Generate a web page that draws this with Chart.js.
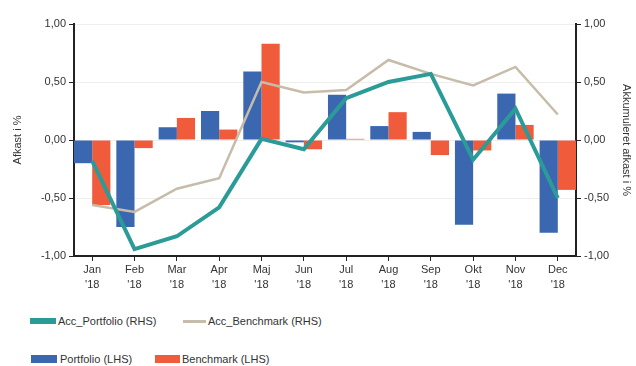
<!DOCTYPE html>
<html>
<head>
<meta charset="utf-8">
<script src="https://cdn.jsdelivr.net/npm/chart.js@4.4.1/dist/chart.umd.min.js"></script>
<style>
  html, body { margin: 0; padding: 0; background: #fff; }
  #wrap { position: relative; width: 636px; height: 366px; font-family: "Liberation Sans", Arial, sans-serif; }
  #box { position: absolute; left: 0; top: 0; width: 636px; height: 300px; }
  .lg { position: absolute; font-size: 11px; color: #333; line-height: 13px; white-space: nowrap; }
  .sw { position: absolute; }
</style>
</head>
<body>
<div id="wrap">
  <div id="box"><canvas id="chart"></canvas></div>
  <div class="sw" style="left:30px;top:318px;width:26px;height:6px;background:#2b9b98"></div>
  <div class="lg" style="left:58px;top:315px">Acc_Portfolio (RHS)</div>
  <div class="sw" style="left:183px;top:320px;width:23px;height:3px;background:#c6bca9"></div>
  <div class="lg" style="left:208px;top:315px">Acc_Benchmark (RHS)</div>
  <div class="sw" style="left:31px;top:355px;width:26px;height:8px;background:#3b66b0"></div>
  <div class="lg" style="left:60px;top:353px">Portfolio (LHS)</div>
  <div class="sw" style="left:155px;top:355px;width:25px;height:8px;background:#f05b3c"></div>
  <div class="lg" style="left:182px;top:353px">Benchmark (LHS)</div>
</div>
<script>
// Måneder og serier (afkast i %)
const months = ['Jan', 'Feb', 'Mar', 'Apr', 'Maj', 'Jun', 'Jul', 'Aug', 'Sep', 'Okt', 'Nov', 'Dec'];
const yearLabel = "'18";
const portfolio = [-0.20, -0.75, 0.11, 0.25, 0.59, -0.02, 0.39, 0.12, 0.07, -0.73, 0.40, -0.80];
const benchmark = [-0.56, -0.07, 0.19, 0.09, 0.83, -0.08, 0.01, 0.24, -0.13, -0.09, 0.13, -0.43];
const accPortfolio = [-0.18, -0.94, -0.83, -0.58, 0.01, -0.08, 0.36, 0.50, 0.57, -0.17, 0.27, -0.50];
const accBenchmark = [-0.56, -0.62, -0.42, -0.33, 0.50, 0.41, 0.43, 0.69, 0.57, 0.47, 0.63, 0.22];
const yTicks = [-1, -0.5, 0, 0.5, 1];

const toPoints = arr => arr.map((v, i) => ({ x: i, y: v }));
const fmt = v => Number(v).toFixed(2).replace('.', ',');
const font = { family: '"Liberation Sans", Arial, sans-serif', size: 11 };
const axisColor = '#222';

new Chart(document.getElementById('chart'), {
  data: {
    datasets: [
      { type: 'line', label: 'Acc_Portfolio (RHS)', data: toPoints(accPortfolio), yAxisID: 'y2',
        borderColor: '#2b9b98', borderWidth: 4, pointRadius: 0, tension: 0, order: 0 },
      { type: 'line', label: 'Acc_Benchmark (RHS)', data: toPoints(accBenchmark), yAxisID: 'y2',
        borderColor: '#c6bca9', borderWidth: 2.5, pointRadius: 0, tension: 0, order: 1 },
      { type: 'bar', label: 'Portfolio (LHS)', data: toPoints(portfolio), yAxisID: 'y',
        backgroundColor: '#3b66b0', categoryPercentage: 0.86, barPercentage: 1, order: 2 },
      { type: 'bar', label: 'Benchmark (LHS)', data: toPoints(benchmark), yAxisID: 'y',
        backgroundColor: '#f05b3c', categoryPercentage: 0.86, barPercentage: 1, order: 2 }
    ]
  },
  options: {
    responsive: true,
    maintainAspectRatio: false,
    animation: false,
    layout: { padding: { top: 24, bottom: 6, left: 11, right: 3 } },
    plugins: { legend: { display: false }, tooltip: { enabled: false } },
    scales: {
      x: {
        type: 'linear',
        offset: false,
        min: -0.43,
        max: 11.43,
        afterBuildTicks: s => { s.ticks = months.map((m, i) => ({ value: i })); },
        afterFit: s => { s.height = 38; },
        grid: { display: true, offset: false, drawOnChartArea: false, tickLength: 5, tickColor: axisColor },
        border: { color: axisColor, width: 2 },
        ticks: {
          font: { ...font, lineHeight: 1.35 }, color: '#333', maxRotation: 0, autoSkip: false, padding: 2,
          callback: v => [months[v], yearLabel]
        }
      },
      y: {
        position: 'left',
        min: -1, max: 1,
        afterBuildTicks: s => { s.ticks = yTicks.map(v => ({ value: v })); },
        afterFit: s => { s.width = 63; },
        grid: { color: '#eeeeee', tickColor: axisColor, tickLength: 5 },
        border: { color: axisColor, width: 2 },
        ticks: { font, color: '#333', padding: 3, callback: v => fmt(v) },
        title: { display: true, text: 'Afkast i %', font, color: '#333', padding: 0 }
      },
      y2: {
        position: 'right',
        min: -1, max: 1,
        afterBuildTicks: s => { s.ticks = yTicks.map(v => ({ value: v })); },
        afterFit: s => { s.width = 57; },
        grid: { drawOnChartArea: false, tickColor: axisColor, tickLength: 5 },
        border: { color: axisColor, width: 2 },
        ticks: { font, color: '#333', padding: 3, callback: v => fmt(v) },
        title: { display: true, text: 'Akkumuleret afkast i %', font, color: '#333', padding: 0 }
      }
    }
  }
});
</script>
</body>
</html>
